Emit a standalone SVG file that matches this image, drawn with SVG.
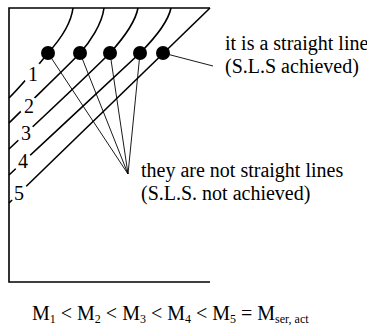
<svg xmlns="http://www.w3.org/2000/svg" width="367" height="327" viewBox="0 0 367 327">
  <style>
    .frame { fill: none; stroke: #000; stroke-width: 1.6; }
    .curve { fill: none; stroke: #000; stroke-width: 1.6; }
    .leader { fill: none; stroke: #000; stroke-width: 0.9; }
    .dot { fill: #000; }
    .txt { font-family: "Liberation Serif", "Times New Roman", serif; font-size: 20px; fill: #000; }
    .sub { font-size: 12px; }
  </style>
  <defs>
    <!-- openings in the curves where the numbers sit -->
    <mask id="labelGaps" maskUnits="userSpaceOnUse" x="0" y="0" width="367" height="327">
      <rect x="0" y="0" width="367" height="327" fill="#fff"/>
      <circle cx="33" cy="73" r="11" fill="#000"/>
      <circle cx="29" cy="106" r="10" fill="#000"/>
      <circle cx="26" cy="134" r="10" fill="#000"/>
      <circle cx="23" cy="162" r="10" fill="#000"/>
      <circle cx="19" cy="193" r="10" fill="#000"/>
    </mask>
  </defs>

  <!-- axes frame: left, top and bottom edges -->
  <g id="frame">
    <polyline class="frame" points="210,8 9,8 9,282 210,282"/>
  </g>

  <!-- moment curves 1..5 -->
  <g id="connectors">
    <g mask="url(#labelGaps)">
      <path class="curve" d="M73,8 C71,24 58,42 48,53 C40,63 24,83 9,98"/>
      <path class="curve" d="M104,8 C102,24 90,42 80,53 C70,64 30,102 9,123"/>
      <path class="curve" d="M138,8 C135,24 120,42 110,53 C99,64 40,120 9,149"/>
      <path class="curve" d="M171,8 C168,22 152,41 140,53 C128,64 50,137 9,175"/>
      <path class="curve" d="M210,8 L9,203"/>
    </g>
    <!-- leaders from the points to the notes -->
    <line class="leader" x1="48" y1="53" x2="128" y2="174"/>
    <line class="leader" x1="80" y1="53" x2="128" y2="174"/>
    <line class="leader" x1="110" y1="53" x2="128" y2="174"/>
    <line class="leader" x1="140" y1="53" x2="128" y2="174"/>
    <line class="leader" x1="163" y1="53" x2="213" y2="66"/>
  </g>

  <g id="point1"><circle class="dot" cx="48" cy="53" r="7"/></g>
  <g id="point2"><circle class="dot" cx="80" cy="53" r="7"/></g>
  <g id="point3"><circle class="dot" cx="110" cy="53" r="7"/></g>
  <g id="point4"><circle class="dot" cx="140" cy="53" r="7"/></g>
  <g id="point5"><circle class="dot" cx="163" cy="53" r="7"/></g>

  <g id="curve-labels" class="txt" text-anchor="middle">
    <text x="33" y="81">1</text>
    <text x="29" y="113">2</text>
    <text x="26" y="140">3</text>
    <text x="23" y="168">4</text>
    <text x="19" y="200">5</text>
  </g>

  <g id="note-straight" class="txt">
    <text x="225" y="50">it is a straight line</text>
    <text x="225" y="73">(S.L.S achieved)</text>
  </g>

  <g id="note-not-straight" class="txt">
    <text x="141" y="177">they are not straight lines</text>
    <text x="141" y="200">(S.L.S. not achieved)</text>
  </g>

  <g id="relation" class="txt">
    <text x="32" y="320">M<tspan class="sub" dy="3">1</tspan><tspan dy="-3"> &lt; M</tspan><tspan class="sub" dy="3">2</tspan><tspan dy="-3"> &lt; M</tspan><tspan class="sub" dy="3">3</tspan><tspan dy="-3"> &lt; M</tspan><tspan class="sub" dy="3">4</tspan><tspan dy="-3"> &lt; M</tspan><tspan class="sub" dy="3">5</tspan><tspan dy="-3"> = M</tspan><tspan class="sub" dy="3">ser, act</tspan></text>
  </g>
</svg>
